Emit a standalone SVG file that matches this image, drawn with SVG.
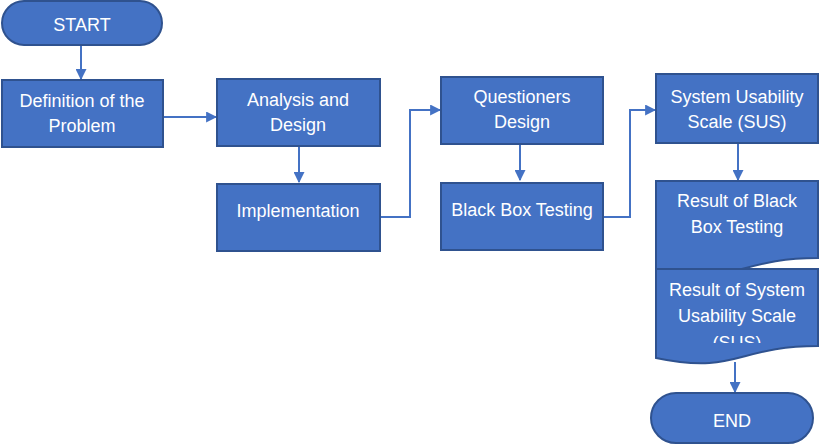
<svg xmlns="http://www.w3.org/2000/svg" width="821" height="445" viewBox="0 0 821 445">
<style>
.n{fill:#4472C4;stroke:#2F528F;stroke-width:2}
.t{font-family:"Liberation Sans",Arial,sans-serif;font-size:18px;fill:#fff;text-anchor:middle}
.c{fill:none;stroke:#4472C4;stroke-width:2}
</style>
<defs>
<marker id="a" viewBox="0 0 10 10" refX="9" refY="5" markerWidth="5.5" markerHeight="5.5" orient="auto" markerUnits="strokeWidth">
<path d="M0,0 L10,5 L0,10 Z" fill="#4472C4"/>
</marker>
<clipPath id="clip"><rect x="650" y="260" width="180" height="83"/></clipPath>
</defs>
<rect width="821" height="445" fill="#fff"/>
<g id="connectors">
<path class="c" d="M81,45 V79" marker-end="url(#a)"/>
<path class="c" d="M163,117 H216" marker-end="url(#a)"/>
<path class="c" d="M299,146 V182" marker-end="url(#a)"/>
<path class="c" d="M380,217 H410 V110 H440" marker-end="url(#a)"/>
<path class="c" d="M520,144 V180" marker-end="url(#a)"/>
<path class="c" d="M603,217 H630 V110 H655" marker-end="url(#a)"/>
<path class="c" d="M738,143 V180" marker-end="url(#a)"/>
<path class="c" d="M735,362 V392" marker-end="url(#a)"/>
</g>
<g id="start">
<rect class="n" x="2" y="1" width="160" height="44" rx="22"/>
<text class="t" x="82" y="31">START</text>
</g>
<g id="definition">
<rect class="n" x="2" y="80" width="161" height="67"/>
<text class="t" x="82" y="107">Definition of the</text>
<text class="t" x="82" y="132">Problem</text>
</g>
<g id="analysis">
<rect class="n" x="217" y="79" width="163" height="67"/>
<text class="t" x="298" y="106">Analysis and</text>
<text class="t" x="298" y="131">Design</text>
</g>
<g id="implementation">
<rect class="n" x="217" y="184" width="163" height="67"/>
<text class="t" x="298" y="217">Implementation</text>
</g>
<g id="questioners">
<rect class="n" x="441" y="77" width="162" height="67"/>
<text class="t" x="522" y="103">Questioners</text>
<text class="t" x="522" y="128">Design</text>
</g>
<g id="blackbox">
<rect class="n" x="441" y="183" width="162" height="67"/>
<text class="t" x="522" y="216">Black Box Testing</text>
</g>
<g id="sus">
<rect class="n" x="656" y="74" width="162" height="69"/>
<text class="t" x="737" y="103">System Usability</text>
<text class="t" x="737" y="128">Scale (SUS)</text>
</g>
<g id="result-blackbox">
<path class="n" d="M656,181 H818 V258 C737,258 737,287 656,270 Z"/>
<text class="t" x="737" y="207">Result of Black</text>
<text class="t" x="737" y="233">Box Testing</text>
</g>
<g id="result-sus">
<path class="n" d="M656,269 H818 V346 C737,346 737,375 656,358 Z"/>
<text class="t" x="737" y="296">Result of System</text>
<text class="t" x="737" y="322">Usability Scale</text>
<text class="t" x="737" y="349" clip-path="url(#clip)">(SUS)</text>
</g>
<g id="end">
<rect class="n" x="651" y="393" width="162" height="50" rx="25"/>
<text class="t" x="732" y="427">END</text>
</g>
</svg>
